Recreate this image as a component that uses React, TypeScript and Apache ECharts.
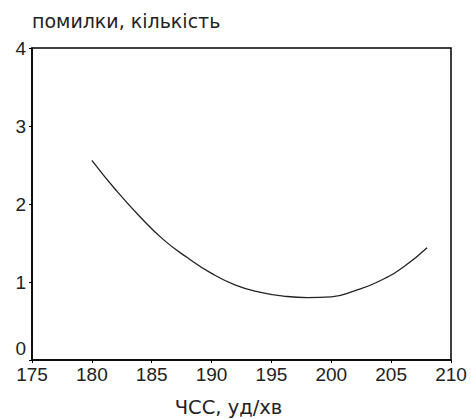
import React, { useEffect, useRef } from "react";
import * as echarts from "echarts";

const hrValues = [180, 182, 184, 186, 188, 190, 192, 194, 196, 198, 200, 202, 204, 206, 208];
const errorValues = [2.56, 2.18, 1.84, 1.54, 1.31, 1.11, 0.96, 0.87, 0.82, 0.8, 0.81, 0.89, 1.01, 1.19, 1.44];
const xTitle = "ЧСС, уд/хв";
const yTitle = "помилки, кількість";

export default function App() {
  const ref = useRef<HTMLDivElement>(null);
  useEffect(() => {
    if (!ref.current) return;
    const chart = echarts.init(ref.current, undefined, { renderer: "svg" });
    const numFont = "'Liberation Sans', Arial, sans-serif";
    const textFont = "'DejaVu Sans', sans-serif";
    chart.setOption({
      animation: false,
      backgroundColor: "#ffffff",
      grid: {
        left: 32,
        top: 48,
        right: 20,
        bottom: 59,
        outerBoundsMode: "none",
        containLabel: false,
        show: true,
        borderColor: "#000",
        borderWidth: 1.5,
        backgroundColor: "transparent",
      },
      xAxis: {
        type: "value",
        min: 175,
        max: 210,
        interval: 5,
        name: xTitle,
        nameLocation: "middle",
        nameGap: 37,
        nameTextStyle: { fontFamily: textFont, fontSize: 19.5, color: "#222", padding: [0, 26, 0, 0] },
        axisLine: { show: true, lineStyle: { color: "#000", width: 1.5 } },
        axisTick: { show: true, length: 3, lineStyle: { color: "#000" } },
        axisLabel: { fontFamily: numFont, fontSize: 19, color: "#222", margin: 5 },
        splitLine: { show: false },
      },
      yAxis: {
        type: "value",
        min: 0,
        max: 4,
        interval: 1,
        name: yTitle,
        nameLocation: "end",
        nameGap: 27,
        nameTextStyle: { fontFamily: textFont, fontSize: 19, color: "#222", align: "left", verticalAlign: "middle" },
        axisLine: { show: true, lineStyle: { color: "#000", width: 1.5 } },
        axisTick: { show: true, length: 3, lineStyle: { color: "#000" } },
        axisLabel: {
          fontFamily: numFont,
          fontSize: 19,
          color: "#222",
          margin: 6,
          formatter: (v: number) => (v === 0 ? "{lift|0}" : String(v)),
          rich: {
            lift: { fontFamily: numFont, fontSize: 19, color: "#222", padding: [0, 0, 24, 0] },
          },
        },
        splitLine: { show: false },
      },
      series: [
        {
          type: "line",
          data: hrValues.map((x, i) => [x, errorValues[i]]),
          smooth: true,
          showSymbol: false,
          lineStyle: { color: "#222", width: 1.3 },
        },
      ],
    });
    return () => chart.dispose();
  }, []);
  return (
    <div
      ref={ref}
      style={{ position: "fixed", left: 0, top: 0, width: 471, height: 419, background: "#fff" }}
    />
  );
}
